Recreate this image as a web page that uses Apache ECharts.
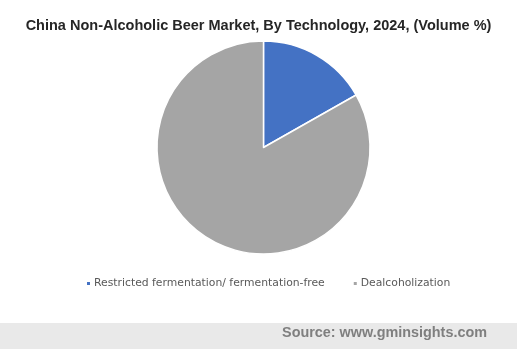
<!DOCTYPE html>
<html><head><meta charset="utf-8">
<script src="https://cdn.jsdelivr.net/npm/echarts@6/dist/echarts.min.js"></script>
<style>html,body{margin:0;padding:0;background:#fff}#c{width:517px;height:349px}</style>
</head><body><div id="c"></div>
<script>
const categories = ["Restricted fermentation/ fermentation-free", "Dealcoholization"];
const values = [16.8, 83.2];
const colors = ["#4472C4", "#A5A5A5"];
const chart = echarts.init(document.getElementById('c'));
chart.setOption({
  animation: false,
  title: {
    text: "China Non-Alcoholic Beer Market, By Technology, 2024, (Volume %)",
    left: 'center', top: 13,
    textStyle: {fontFamily: 'Liberation Sans, Arial', fontSize: 14.5, fontWeight: 'bold', color: '#262626'}
  },
  legend: {
    left: 80, top: 273,
    icon: 'rect', itemWidth: 5, itemHeight: 5, itemGap: 27,
    textStyle: {fontFamily: 'DejaVu Sans', fontSize: 10.8, color: '#595959', padding: [0,0,0,-2]},
    data: categories
  },
  graphic: [
    {type: 'rect', shape: {x: 0, y: 323, width: 517, height: 26}, style: {fill: '#E9E9E9'}},
    {type: 'text', right: 30, top: 326, style: {text: 'Source: www.gminsights.com', font: 'bold 14.4px Liberation Sans, Arial', fill: '#7F7F7F'}}
  ],
  series: [{
    type: 'pie',
    center: [263.5, 147.5], radius: 106.5,
    startAngle: 90, clockwise: true,
    label: {show: false}, labelLine: {show: false},
    itemStyle: {borderColor: '#fff', borderWidth: 1.5},
    emphasis: {disabled: true},
    data: categories.map((n, i) => ({name: n, value: values[i], itemStyle: {color: colors[i]}}))
  }]
});
</script></body></html>
